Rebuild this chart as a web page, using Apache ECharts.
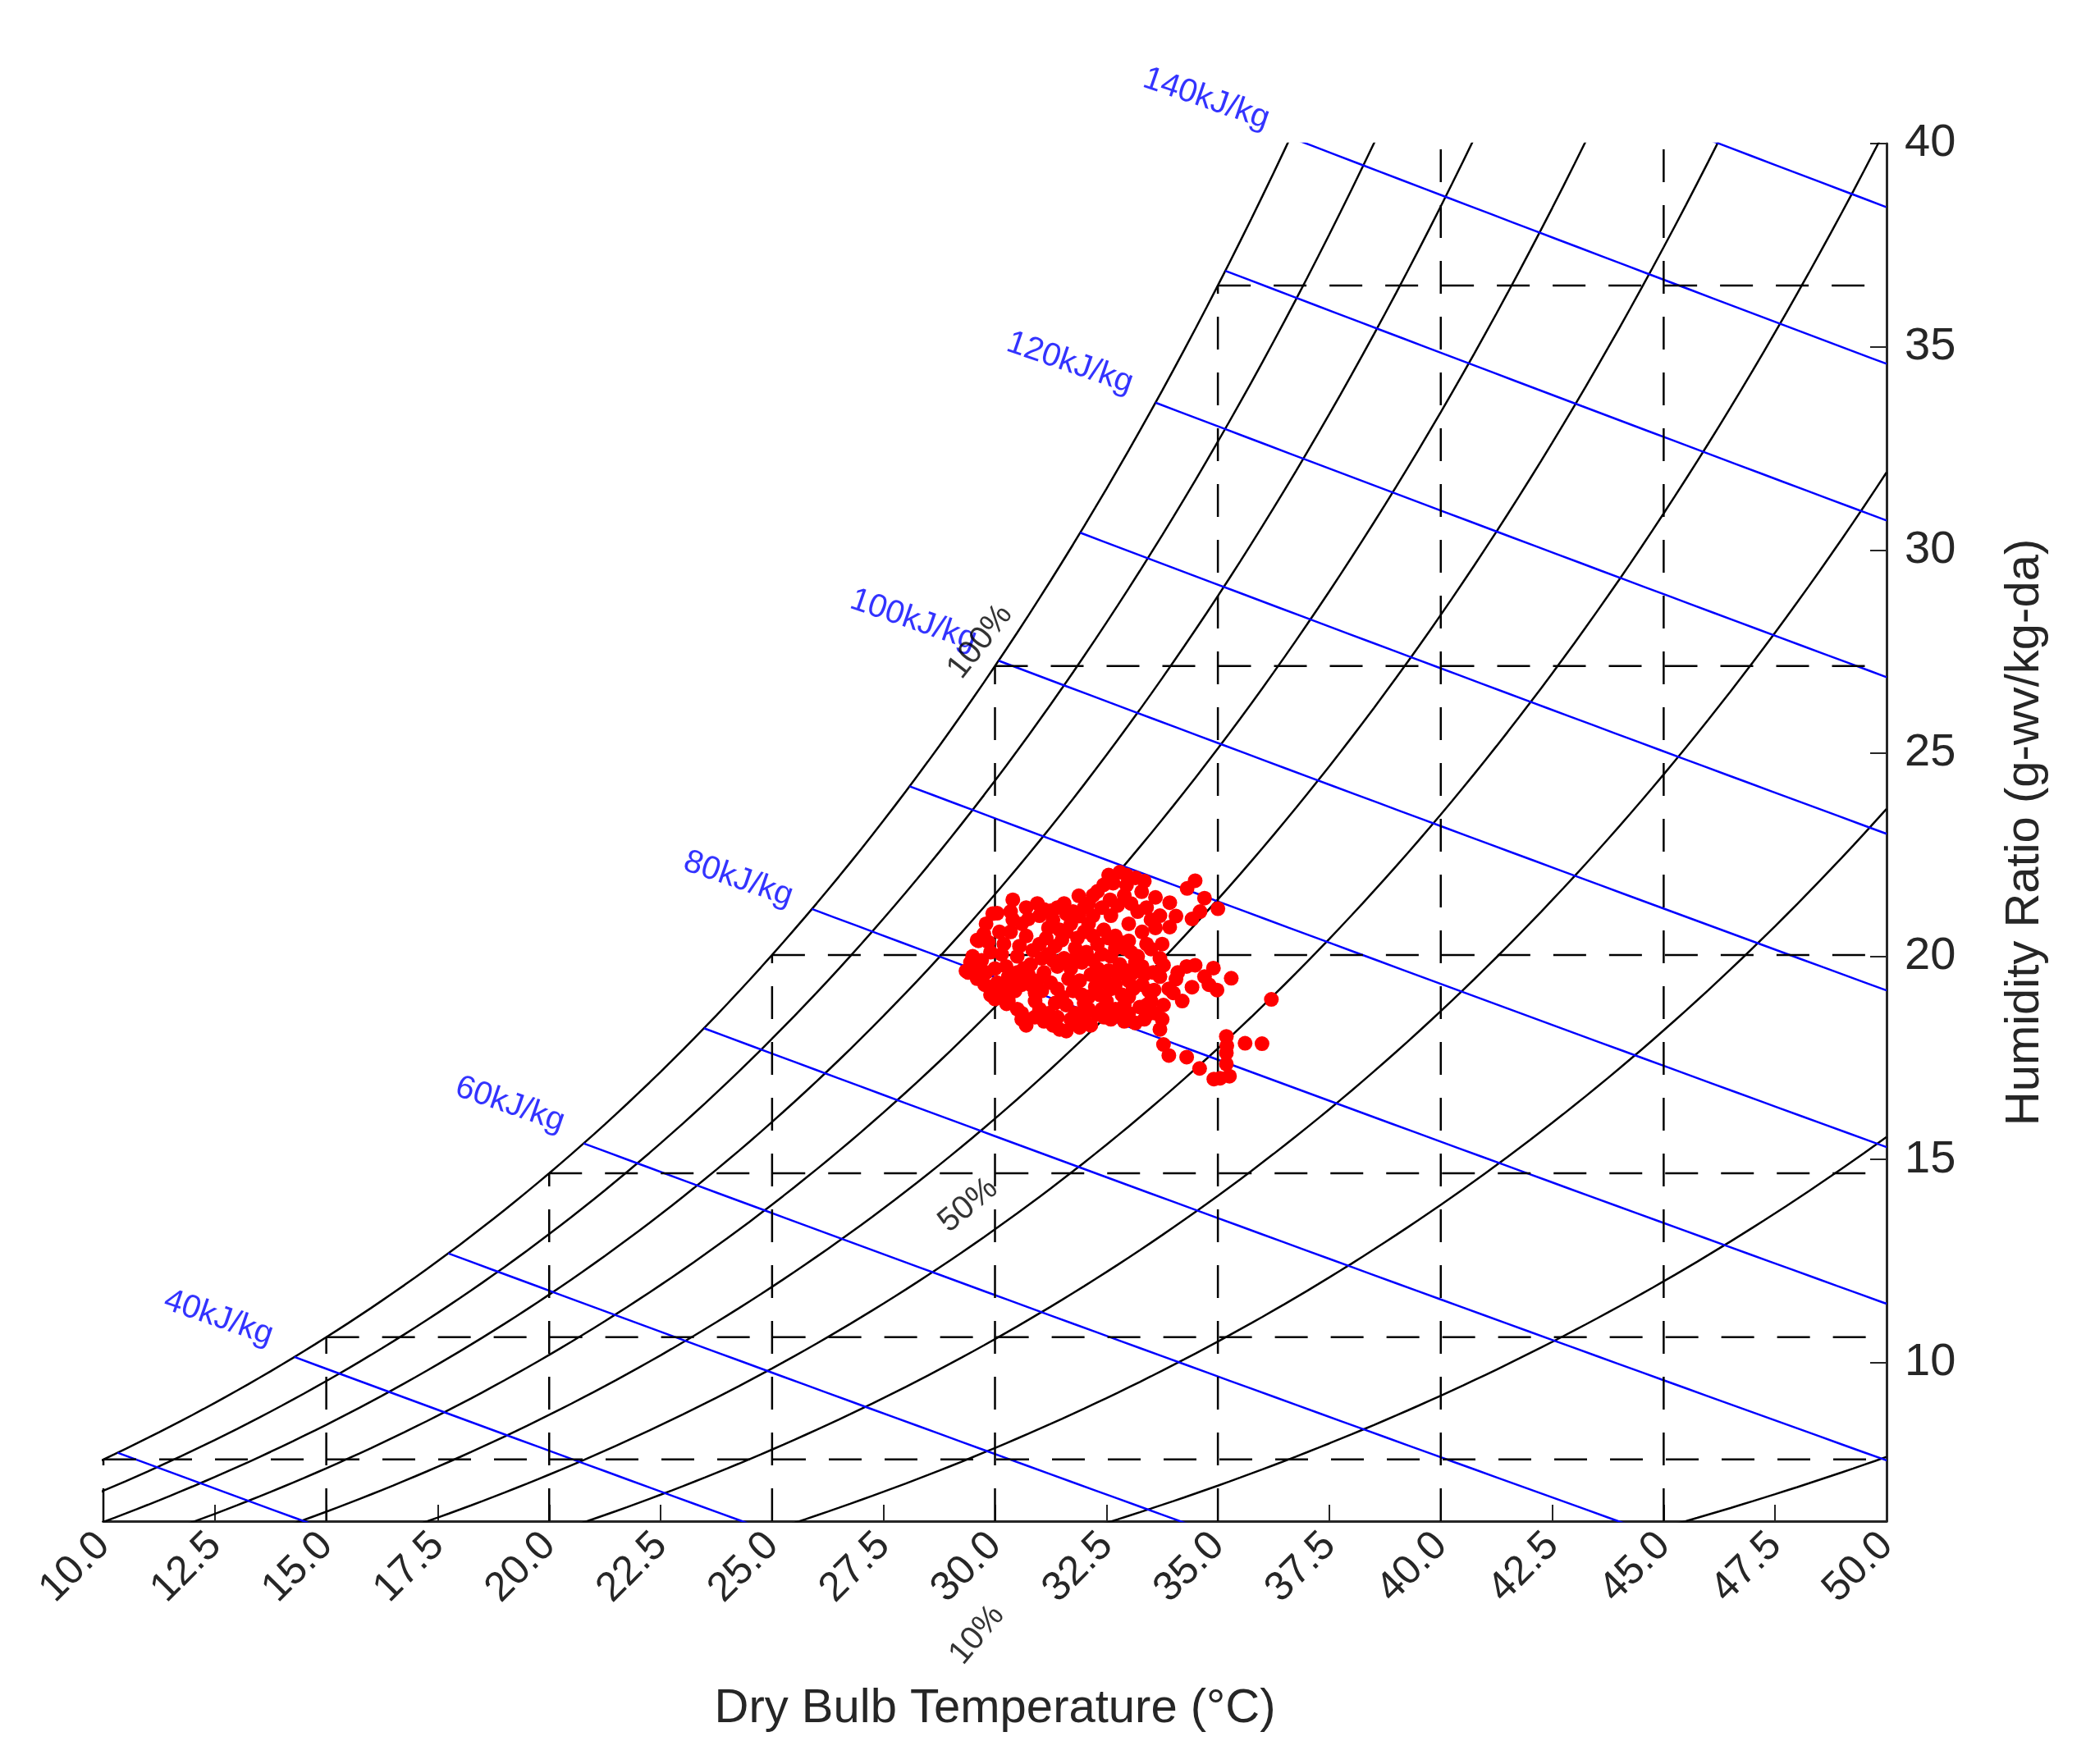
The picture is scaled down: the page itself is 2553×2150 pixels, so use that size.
<!DOCTYPE html>
<html>
<head>
<meta charset="utf-8">
<script src="https://cdn.jsdelivr.net/npm/echarts@6/dist/echarts.min.js"></script>
<style>html,body{margin:0;padding:0;background:#fff}#main{width:2553px;height:2150px}</style>
</head>
<body>
<div id="main"></div>
<script>
var myChart = echarts.init(document.getElementById("main"));

// axis ranges and ticks
var yTicks = [10, 15, 20, 25, 30, 35, 40];
var yMin = 6.1, yMax = 40;
// chart furniture
var rhLevels = [1, 0.9, 0.8, 0.7, 0.6, 0.5, 0.4, 0.3, 0.2, 0.1];
var enthalpyLevels = [30, 40, 50, 60, 70, 80, 90, 100, 110, 120, 130, 140, 150];
var gridTemps = [10, 15, 20, 25, 30, 35, 40, 45];
var labelTexts = [
    [12.58, 11.1, '40kJ/kg'], [19.12, 16.35, '60kJ/kg'], [24.24, 21.9, '80kJ/kg'],
    [28.17, 28.27, '100kJ/kg'], [31.68, 34.6, '120kJ/kg'], [34.74, 41.1, '140kJ/kg']
];
var rhTexts = [[29.67, 27.74, '100%', 52], [29.4, 13.87, '50%', 40], [29.6, 3.3, '10%', 50]];

// measured states: [dry bulb degC, humidity ratio g/kg]
var measured = [
    [29.35, 19.64], [29.4, 19.6], [29.42, 19.64], [29.5, 20.0], [29.6, 20.4], [29.63, 20.38], [29.8, 20.8], [29.95, 21.05],
    [30.05, 21.06], [30.4, 21.39], [30.35, 21.1], [29.77, 19.3], [29.6, 19.45], [29.9, 19.2], [30.1, 19.0], [30.26, 18.83],
    [30.5, 18.7], [30.89, 18.5], [31.1, 18.4], [31.3, 18.3], [31.6, 18.16], [31.75, 18.35], [32.0, 18.5], [32.3, 18.57],
    [32.6, 18.45], [32.9, 18.4], [33.15, 18.36], [33.43, 18.57], [33.5, 18.9], [33.57, 19.17], [33.55, 19.6], [33.5, 20.18],
    [33.0, 20.38], [32.7, 20.5], [32.44, 20.65], [32.1, 20.8], [31.88, 20.99], [31.6, 21.05], [31.25, 21.12], [31.0, 21.0],
    [30.75, 20.92], [30.6, 20.8], [31.88, 21.49], [32.1, 21.3], [32.44, 21.76], [32.58, 21.39], [32.8, 22.07], [33.15, 21.93],
    [33.29, 21.59], [33.6, 21.45], [33.92, 21.32], [34.06, 20.99], [33.92, 20.72], [33.5, 20.9], [33.2, 21.1], [32.9, 21.5],
    [34.49, 21.86], [34.31, 21.67], [34.7, 21.43], [35.0, 21.17], [34.42, 20.92], [34.6, 21.1],
    [33.78, 19.78], [34.1, 19.6], [34.49, 19.78], [34.9, 19.71], [35.3, 19.46], [34.98, 19.17], [34.42, 19.24], [34.2, 18.9],
    [33.78, 18.8], [34.06, 19.44], [33.9, 19.2], [34.7, 19.5], [34.3, 19.75], [34.0, 19.1], [33.7, 19.5], [34.8, 19.3],
    [33.7, 18.2], [33.78, 17.83], [33.9, 17.56], [34.3, 17.52], [34.59, 17.24], [34.91, 16.98], [35.26, 17.05], [35.19, 18.03],
    [35.19, 17.62], [35.61, 17.86], [35.99, 17.85], [36.2, 18.94], [35.19, 17.35], [35.05, 17.0], [35.2, 17.8],
    [29.7, 19.9], [29.9, 20.1], [30.0, 19.7], [30.2, 20.3], [30.3, 19.5], [30.5, 20.0], [30.6, 19.3], [30.7, 20.5],
    [30.8, 19.8], [30.9, 19.1], [31.0, 20.3], [31.1, 19.6], [31.2, 20.7], [31.3, 19.9], [31.4, 19.2], [31.5, 20.4],
    [31.6, 18.8], [31.7, 19.7], [31.8, 20.2], [31.9, 19.4], [32.0, 20.6], [32.1, 19.0], [32.2, 19.9], [32.3, 20.3],
    [32.4, 19.5], [32.5, 18.9], [32.6, 20.0], [32.7, 19.3], [32.8, 19.8], [32.9, 20.2], [33.0, 19.0], [33.1, 19.6],
    [33.2, 20.0], [33.3, 19.3], [33.4, 18.8], [30.1, 20.6], [30.4, 20.9], [30.3, 18.9], [30.6, 18.6], [30.9, 18.9],
    [31.2, 18.6], [31.5, 19.0], [31.8, 18.6], [32.1, 18.7], [32.4, 18.7], [32.7, 18.7], [33.0, 18.6], [31.3, 20.9],
    [31.7, 20.8], [32.2, 21.0], [32.6, 21.0], [33.0, 20.8], [33.3, 20.6], [29.55, 19.9], [29.8, 19.6], [30.05, 19.35],
    [30.45, 19.15], [30.75, 19.55], [31.05, 19.95], [31.35, 20.25], [31.65, 19.45], [31.95, 19.85], [32.25, 19.25],
    [32.55, 19.65], [32.85, 19.05], [33.15, 19.85], [33.35, 19.55], [32.0, 21.2], [32.3, 21.6], [32.65, 21.8], [32.95, 21.75],
    [31.55, 21.3], [30.95, 21.3], [30.7, 21.2], [29.9, 19.05], [31.9, 18.25], [31.4, 18.5], [30.7, 18.3], [32.15, 18.3],
    [29.85, 20.35], [29.75, 20.55], [30.15, 20.05], [30.25, 19.75], [30.4, 19.4], [30.55, 20.25], [30.65, 19.7], [30.85, 20.15],
    [30.95, 19.4], [31.0, 18.7], [31.15, 20.45], [31.25, 19.35], [31.4, 19.75], [31.45, 20.65], [31.55, 19.95], [31.7, 18.45],
    [31.75, 19.15], [31.85, 20.45], [31.95, 19.05], [32.05, 20.1], [32.15, 19.55], [32.2, 20.5], [32.35, 19.05], [32.4, 20.05],
    [32.5, 19.35], [32.55, 20.45], [32.65, 18.6], [32.75, 19.55], [32.8, 20.35], [32.9, 18.8], [32.95, 19.65], [33.05, 20.1],
    [33.1, 19.2], [33.25, 18.75], [33.3, 19.75], [33.4, 20.3], [33.45, 19.15], [30.2, 19.2], [30.35, 20.6], [30.5, 19.6],
    [30.8, 19.3], [31.05, 19.15], [31.2, 20.05], [31.35, 18.85], [31.6, 20.6], [31.8, 19.95], [32.0, 18.85], [32.3, 19.7],
    [32.6, 19.2], [32.7, 20.2], [33.0, 19.4], [31.1, 21.15], [31.4, 21.2], [31.75, 21.1], [32.4, 21.2], [32.75, 21.25],
    [33.05, 21.3], [33.4, 21.2], [33.7, 21.0], [33.6, 20.7], [33.75, 20.3], [33.7, 19.95], [32.2, 21.5], [32.55, 22.0],
    [32.95, 22.0], [33.35, 21.85], [29.65, 19.7], [29.45, 19.85], [30.0, 18.95], [30.6, 18.45], [31.45, 18.2], [32.45, 18.5],
    [32.8, 18.55], [33.35, 18.45], [33.6, 18.6], [33.75, 18.45]
];

var P = 101.325;
function psat(t) { return 0.61094 * Math.exp(17.625 * t / (t + 243.04)); }
function wOf(t, rh) { var p = rh * psat(t); return 622 * p / (P - p); }
function hOf(t, w) { return 1.006 * t + w / 1000 * (2501 + 1.86 * t); }
function wFromH(t, h) { return 1000 * (h - 1.006 * t) / (2501 + 1.86 * t); }
function satTempForH(h) {
    var lo = -10, hi = 60;
    for (var i = 0; i < 60; i++) {
        var mid = (lo + hi) / 2;
        if (hOf(mid, wOf(mid, 1)) < h) lo = mid; else hi = mid;
    }
    return (lo + hi) / 2;
}

var series = [];
var black = { color: '#000', width: 2.5 };
var dashed = { color: '#000', width: 2.5, type: [40, 28] };

function lineSeries(data, style) {
    series.push({ type: 'line', data: data, showSymbol: false, silent: true, clip: true,
        lineStyle: style, animation: false, z: 2 });
}

rhLevels.forEach(function (rh) {
    var d = [];
    for (var t = 0; t <= 50.0001; t += 0.25) d.push([t, wOf(t, rh)]);
    lineSeries(d, black);
});

enthalpyLevels.forEach(function (h) {
    var t0 = satTempForH(h), d = [];
    for (var t = t0; t <= 50.0001; t += 0.5) d.push([t, wFromH(t, h)]);
    d.push([50, wFromH(50, h)]);
    lineSeries(d, { color: '#0000ff', width: 2.5 });
});

gridTemps.forEach(function (t) {
    var top = Math.min(wOf(t, 1), yMax);
    lineSeries([[t, yMin], [t, top]], dashed);
    if (wOf(t, 1) < yMax) lineSeries([[t, wOf(t, 1)], [50, wOf(t, 1)]], dashed);
});

series.push({
    type: 'scatter', data: measured, symbolSize: 18, itemStyle: { color: '#ff0000', opacity: 1 }, z: 5, animation: false
});

series.push({
    type: 'scatter', data: labelTexts, symbolSize: 0, clip: false, silent: true, z: 6,
    label: {
        show: true, position: 'inside', rotate: -19, color: '#0000ff', fontSize: 40,
        fontFamily: 'Liberation Sans', formatter: function (p) { return p.value[2]; }
    }
});
rhTexts.forEach(function (r) {
    series.push({
        type: 'scatter', data: [r], symbolSize: 0, clip: false, silent: true, z: 6,
        label: {
            show: true, position: 'inside', rotate: r[3], color: '#000', fontSize: 40,
            fontFamily: 'Liberation Sans', formatter: function (p) { return p.value[2]; }
        }
    });
});

var option = {
    backgroundColor: '#fff',
    animation: false,
    grid: { left: 126, right: 254, top: 175, bottom: 296 },
    xAxis: {
        type: 'value', min: 10, max: 50, interval: 2.5,
        name: 'Dry Bulb Temperature (°C)', nameLocation: 'middle', nameGap: 200,
        nameTextStyle: { fontSize: 58, color: '#262626', fontFamily: 'Liberation Sans' },
        axisLine: { lineStyle: { color: '#262626', width: 3 } },
        axisTick: { inside: true, length: 20, lineStyle: { color: '#262626', width: 2 } },
        axisLabel: { rotate: 45, fontSize: 50, color: '#262626', fontFamily: 'Liberation Sans', margin: 22,
            formatter: function (v) { return v.toFixed(1); } },
        splitLine: { show: false }
    },
    yAxis: {
        type: 'value', min: yMin, max: yMax, position: 'right',
        name: 'Humidity Ratio (g-wv/kg-da)', nameLocation: 'middle', nameGap: 140, nameRotate: 90,
        nameTextStyle: { fontSize: 58, color: '#262626', fontFamily: 'Liberation Sans' },
        axisLine: { show: true, lineStyle: { color: '#262626', width: 3 } },
        axisTick: { inside: true, length: 20, customValues: yTicks, lineStyle: { color: '#262626', width: 2 } },
        axisLabel: { fontSize: 56, color: '#262626', fontFamily: 'Liberation Sans', margin: 22, customValues: yTicks },
        splitLine: { show: false }
    },
    series: series
};

myChart.setOption(option);
</script>
</body>
</html>
